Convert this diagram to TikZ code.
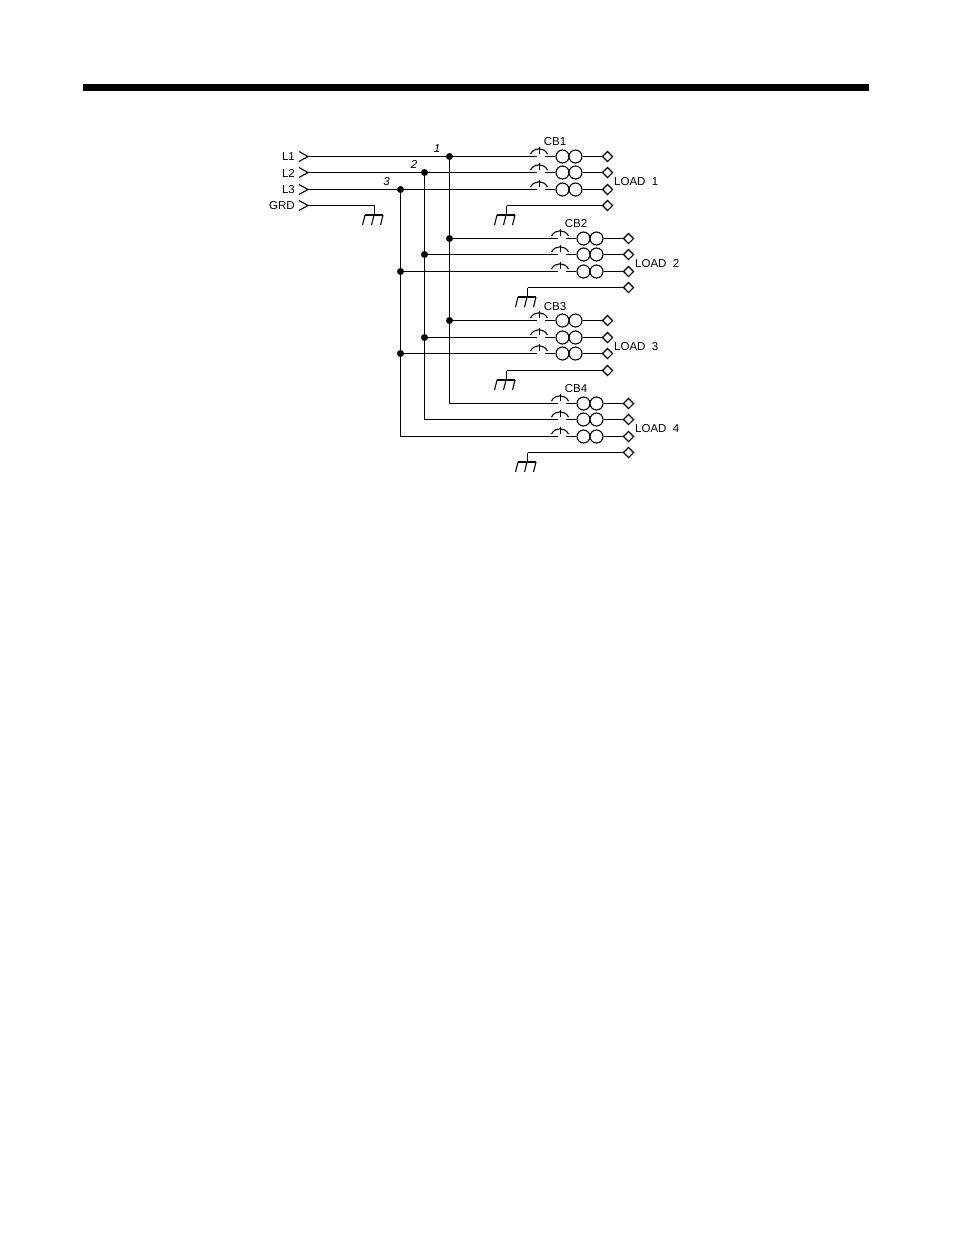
\documentclass[tikz,border=0pt]{standalone}
\usepackage{fontspec}
\setmainfont{Liberation Sans}
\usetikzlibrary{shapes.geometric}
\tikzset{
  wire/.style={line width=1.4pt}, % all conductors
  junction/.style={circle, fill=black, inner sep=0pt, minimum size=7pt},
  loadpt/.style={diamond, draw, line width=1.1pt, inner sep=0pt, minimum size=10.5pt},
  coil/.style={circle, draw, line width=1.1pt, inner sep=0pt, minimum size=13pt},
  tag/.style={font=\fontsize{11.5}{13}\selectfont, inner sep=0pt},
  wirenum/.style={font=\fontsize{11.5}{13}\selectfont\itshape, inner sep=0pt},
  earth/.pic={
    \draw[wire] (0,0) -- (0,9.5);
    \draw[wire] (-9.5,9.5) -- (8.5,9.5);
    \foreach \t in {-9.5,-0.5,8.5} {\draw[line width=1.1pt] (\t,9.5) -- ++(-2.5,10);}
  },
  breaker/.pic={
    \draw[line width=1.1pt] (-8.5,-2.5) .. controls (-5,-9.5) and (5,-9.5) .. (8.5,-2.5);
    \draw[line width=1pt] (0,-10) -- (0,-2.5);
  }
}
\begin{document}
\begin{tikzpicture}[x=1pt, y=-1pt]
  \useasboundingbox (0,0) rectangle (954,1235);
  \fill (83,84) rectangle (869,91);

  % Incoming lines
  \foreach \ph/\txt/\yy in {1/L1/156.5, 2/L2/172.5, 3/L3/189.5, 4/GRD/205.5} {
    \coordinate (in\ph) at (308,\yy);
    \node[tag, anchor=east] (name\ph) at (295,\yy+0.5) {\txt};
    \draw[line width=1.1pt] (in\ph) ++(-9,-5) -- (in\ph) -- ++(-9,5);
  }
  \coordinate (gndin) at (374.5,205.5);
  \draw[wire] (in4) -- (gndin);
  \pic at (gndin) {earth};

  \node[wirenum] (num1) at (437,148.5) {1};
  \node[wirenum] (num2) at (414,164.5) {2};
  \node[wirenum] (num3) at (386.5,181.5) {3};

  % Bus bars
  \node[junction] (bus1) at (449.5,156.5) {};
  \node[junction] (bus2) at (424.5,172.5) {};
  \node[junction] (bus3) at (400.5,189.5) {};
  \coordinate (end1) at (449.5,403.5);
  \coordinate (end2) at (424.5,419.5);
  \coordinate (end3) at (400.5,436.5);
  \foreach \ph in {1,2,3} {\draw[wire] (bus\ph.center) -- (end\ph);}

  % Feeders
  \foreach \cb/\dx/\yt/\lbl in {1/0/156/LOAD\ \ 1, 2/21/238.3/LOAD\ \ 2, 3/0/320.7/LOAD\ \ 3, 4/21/403/LOAD\ \ 4} {
    \node[tag] (cbname\cb) at (555+\dx,\yt-14.5) {CB\cb};
    \node[tag, anchor=west] (load\cb) at (614+\dx,\yt+25.5) {\lbl};
    \foreach \ph in {1,2,3} {
      \pgfmathsetmacro\yy{floor(\yt+16.5*(\ph-1))+0.5}
      \coordinate (cb\cb a\ph) at (537+\dx,\yy);
      \coordinate (cb\cb b\ph) at (545+\dx,\yy);
      \pic at (539+\dx,\yy) {breaker};
      \node[coil] (cb\cb c\ph) at (562.5+\dx,\yy) {};
      \node[coil] (cb\cb d\ph) at (575.5+\dx,\yy) {};
      \node[loadpt] (cb\cb t\ph) at (607.5+\dx,\yy) {};
      \draw[wire] (cb\cb b\ph) -- (cb\cb c\ph);
      \draw[wire] (cb\cb d\ph) -- (cb\cb t\ph);
    }
    % Ground leg
    \pgfmathsetmacro\yy{floor(\yt+49.5)+0.5}
    \coordinate (cb\cb g) at (506.5+\dx,\yy);
    \node[loadpt] (cb\cb t4) at (607.5+\dx,\yy) {};
    \draw[wire] (cb\cb g) -- (cb\cb t4);
    \pic at (cb\cb g) {earth};
  }

  % Tap points
  \foreach \cb in {2,3} {
    \foreach \ph in {1,2,3} {
      \node[junction] (tap\cb x\ph) at (bus\ph |- cb\cb a\ph) {};
      \draw[wire] (tap\cb x\ph.center) -- (cb\cb a\ph);
    }
  }
  \foreach \ph in {1,2,3} {
    \draw[wire] (in\ph) -- (cb1a\ph);
    \draw[wire] (end\ph) -- (cb4a\ph);
  }
\end{tikzpicture}
\end{document}
